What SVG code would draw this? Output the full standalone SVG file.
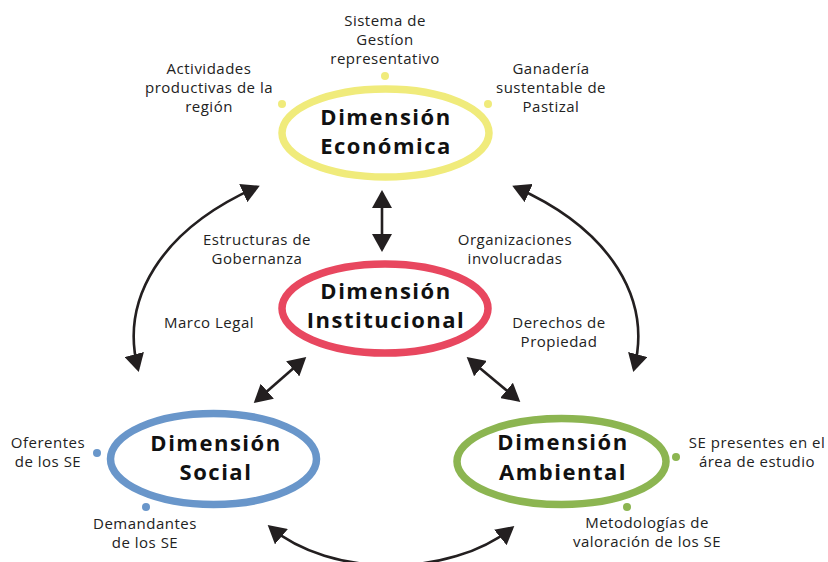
<svg xmlns="http://www.w3.org/2000/svg" width="828" height="562" viewBox="0 0 828 562">
<style>
.ring{fill:none;stroke-width:7.5}
.title{font-family:"Open Sans","Liberation Sans",sans-serif;font-weight:700;font-size:22px;letter-spacing:1.5px;fill:#111;text-anchor:middle}
.lbl{font-family:"Open Sans","Liberation Sans",sans-serif;font-size:15px;letter-spacing:0.5px;fill:#222;text-anchor:middle}
.con{fill:none;stroke:#231f20;stroke-width:2.6;marker-start:url(#ah);marker-end:url(#ah)}
</style>
<defs>
<marker id="ah" viewBox="0 0 18 20" markerWidth="18" markerHeight="20" refX="15" refY="10" orient="auto-start-reverse" markerUnits="userSpaceOnUse">
<path d="M0,0 L18,10 L0,20 z" fill="#231f20"/>
</marker>
</defs>
<rect width="828" height="562" fill="#ffffff"/>

<g id="connectors">
<path class="con" d="M382,193 L382,249"/>
<path class="con" d="M304,359 L256,401"/>
<path class="con" d="M469,359 L518,400"/>
<path class="con" d="M257,187 C160,230 120,300 138,369"/>
<path class="con" d="M515,187 C612,230 652,300 634,369"/>
<path class="con" d="M270,527 C330,578 450,578 512,528"/>
</g>

<g id="economica">
<ellipse class="ring" cx="385.5" cy="133" rx="103.5" ry="44" stroke="#F0EB7B"/>
<circle cx="385" cy="76" r="4" fill="#F0EB7B"/>
<circle cx="282" cy="104" r="4" fill="#F0EB7B"/>
<circle cx="488" cy="104" r="4" fill="#F0EB7B"/>
<text class="title" x="386" y="125">Dimensión</text>
<text class="title" x="386" y="154">Económica</text>
</g>

<g id="institucional">
<ellipse class="ring" cx="385" cy="308.5" rx="103" ry="44.5" stroke="#E8475F" stroke-width="8"/>
<text class="title" x="386" y="299">Dimensión</text>
<text class="title" x="386" y="328">Institucional</text>
</g>

<g id="social">
<ellipse class="ring" cx="213.5" cy="459" rx="103" ry="45.5" stroke="#6996CA"/>
<circle cx="97" cy="453" r="4" fill="#6996CA"/>
<circle cx="146" cy="507" r="4" fill="#6996CA"/>
<text class="title" x="216" y="451">Dimensión</text>
<text class="title" x="216" y="480">Social</text>
</g>

<g id="ambiental">
<ellipse class="ring" cx="561.5" cy="461.5" rx="104.5" ry="43" stroke="#8CB551"/>
<circle cx="676" cy="457" r="4" fill="#8CB551"/>
<circle cx="627" cy="507" r="4" fill="#8CB551"/>
<text class="title" x="563" y="450">Dimensión</text>
<text class="title" x="563" y="480">Ambiental</text>
</g>

<g id="labels">
<text class="lbl" x="385" y="26">Sistema de</text>
<text class="lbl" x="385" y="45">Gestíon</text>
<text class="lbl" x="385" y="64">representativo</text>
<text class="lbl" x="209" y="74">Actividades</text>
<text class="lbl" x="209" y="93">productivas de la</text>
<text class="lbl" x="209" y="112">región</text>
<text class="lbl" x="551" y="74">Ganadería</text>
<text class="lbl" x="551" y="93">sustentable de</text>
<text class="lbl" x="551" y="112">Pastizal</text>
<text class="lbl" x="257" y="245">Estructuras de</text>
<text class="lbl" x="257" y="264">Gobernanza</text>
<text class="lbl" x="209" y="328">Marco Legal</text>
<text class="lbl" x="515" y="245">Organizaciones</text>
<text class="lbl" x="515" y="264">involucradas</text>
<text class="lbl" x="559" y="328">Derechos de</text>
<text class="lbl" x="559" y="347">Propiedad</text>
<text class="lbl" x="48" y="448">Oferentes</text>
<text class="lbl" x="48" y="467">de los SE</text>
<text class="lbl" x="145" y="529">Demandantes</text>
<text class="lbl" x="145" y="548">de los SE</text>
<text class="lbl" x="757" y="448">SE presentes en el</text>
<text class="lbl" x="757" y="467">área de estudio</text>
<text class="lbl" x="647" y="528">Metodologías de</text>
<text class="lbl" x="647" y="547">valoración de los SE</text>
</g>
</svg>
